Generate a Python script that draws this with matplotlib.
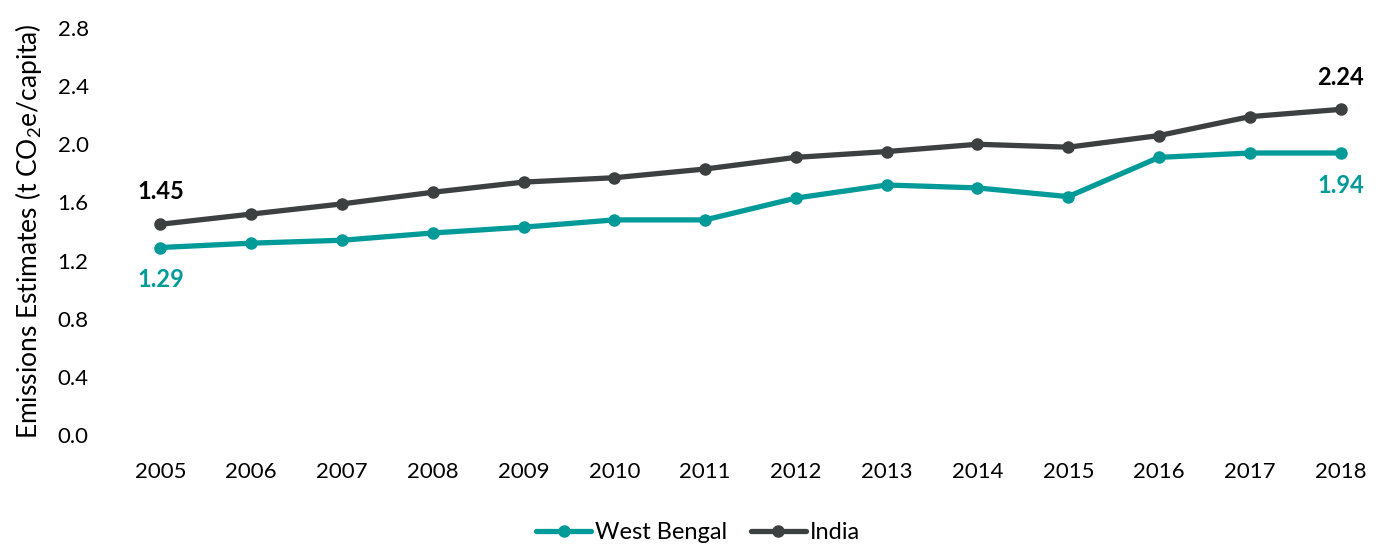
import matplotlib.pyplot as plt

years = ["2005", "2006", "2007", "2008", "2009", "2010", "2011",
         "2012", "2013", "2014", "2015", "2016", "2017", "2018"]
west_bengal = [1.29, 1.32, 1.34, 1.39, 1.43, 1.48, 1.48,
               1.63, 1.72, 1.70, 1.64, 1.91, 1.94, 1.94]
india = [1.45, 1.52, 1.59, 1.67, 1.74, 1.77, 1.83,
         1.91, 1.95, 2.00, 1.98, 2.06, 2.19, 2.24]
y_ticks = [0.0, 0.4, 0.8, 1.2, 1.6, 2.0, 2.4, 2.8]

TEAL = "#009a98"
GREY = "#3d4040"

plt.rcParams['font.family'] = ['Lato', 'DejaVu Sans']
plt.rcParams['mathtext.fontset'] = 'custom'
plt.rcParams['mathtext.rm'] = 'Lato'


def main():
    fig = plt.figure(figsize=(13.86, 5.48), dpi=100)
    ax = fig.add_axes([0.083, 0.206, 0.917, 0.743])

    x = list(range(len(years)))
    ax.plot(x, west_bengal, color=TEAL, lw=3.8, marker='o', ms=8,
            label='West Bengal', solid_capstyle='round')
    ax.plot(x, india, color=GREY, lw=3.8, marker='o', ms=8,
            label='India', solid_capstyle='round')

    # end-point value labels
    lbl = dict(fontsize=17, fontweight='bold', ha='center')
    ax.annotate(f"{india[0]:.2f}", (x[0], india[0]), xytext=(0, 15),
                textcoords='offset points', va='bottom', color='black', **lbl)
    ax.annotate(f"{india[-1]:.2f}", (x[-1], india[-1]), xytext=(0, 15),
                textcoords='offset points', va='bottom', color='black', **lbl)
    ax.annotate(f"{west_bengal[0]:.2f}", (x[0], west_bengal[0]), xytext=(0, -15),
                textcoords='offset points', va='top', color=TEAL, **lbl)
    ax.annotate(f"{west_bengal[-1]:.2f}", (x[-1], west_bengal[-1]), xytext=(0, -15),
                textcoords='offset points', va='top', color=TEAL, **lbl)

    ax.set_xlim(-0.5, 13.5)
    ax.set_ylim(0, 2.8)
    ax.set_xticks(x)
    ax.set_xticklabels(years)
    ax.set_yticks(y_ticks)
    ax.set_yticklabels([f"{v:.1f}" for v in y_ticks])
    ax.tick_params(length=0, labelsize=16, colors='black')
    ax.tick_params(axis='x', pad=19)
    ax.tick_params(axis='y', pad=19)
    for s in ax.spines.values():
        s.set_visible(False)

    ax.set_ylabel(r"Emissions Estimates (t CO$_\mathrm{2}$e/capita)", fontsize=19, labelpad=10)

    ax.legend(loc='upper center', bbox_to_anchor=(0.459, -0.162), ncol=2,
              frameon=False, fontsize=17, handlelength=2.3, columnspacing=1.0,
              handletextpad=0.2)

    fig.savefig("out.png", dpi=100)


if __name__ == '__main__':
    main()
